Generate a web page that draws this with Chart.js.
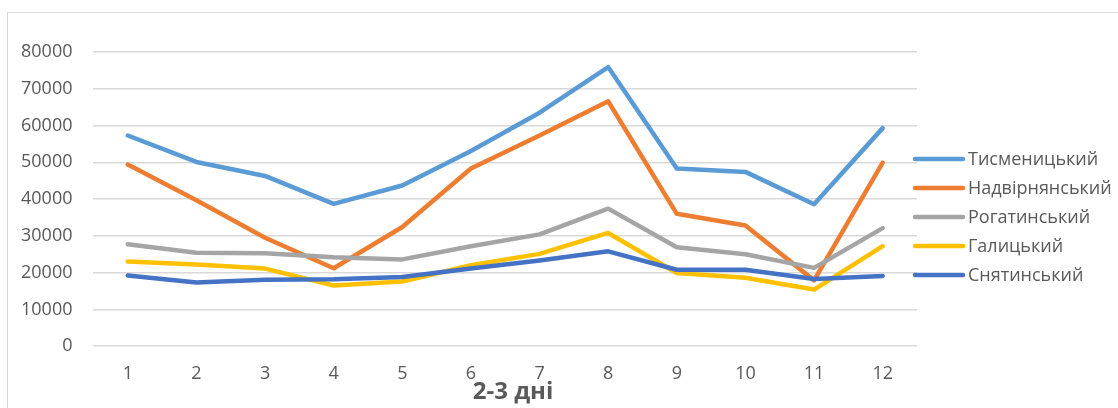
<!DOCTYPE html>
<html>
<head>
<meta charset="utf-8">
<script src="https://cdn.jsdelivr.net/npm/chart.js@4.4.1/dist/chart.umd.min.js"></script>
<style>
  html, body { margin: 0; padding: 0; background: #fff; overflow: hidden; width: 1118px; height: 408px; }
  #frame { position: absolute; left: 7px; top: 12px; width: 1300px; height: 600px; border: 1.5px solid #d9d9d9; box-sizing: border-box; }
  #c { position: absolute; left: 0; top: 0; }
</style>
</head>
<body>
<div id="frame"></div>
<canvas id="c" width="1118" height="408"></canvas>
<script>
const categories = ['1','2','3','4','5','6','7','8','9','10','11','12'];
const seriesNames = ['Тисменицький','Надвірнянський','Рогатинський','Галицький','Снятинський'];
const tysmenytskyi   = [57300, 50100, 46300, 38700, 43700, 53100, 63500, 75900, 48300, 47400, 38600, 59300];
const nadvirnianskyi = [49400, 39700, 29500, 21200, 32400, 48300, 57300, 66600, 36000, 32800, 17900, 49900];
const rohatynskyi    = [27700, 25400, 25300, 24200, 23600, 27200, 30400, 37400, 26900, 25000, 21300, 32100];
const halytskyi      = [23000, 22200, 21100, 16500, 17600, 22000, 25100, 30800, 19900, 18600, 15400, 27200];
const sniatynskyi    = [19200, 17300, 18100, 18200, 18800, 21100, 23300, 25800, 20800, 20800, 18300, 19100];
const seriesValues = [tysmenytskyi, nadvirnianskyi, rohatynskyi, halytskyi, sniatynskyi];
const colors = ['#5B9BD5','#ED7D31','#A5A5A5','#FFC000','#4472C4'];
const yTicks = [0, 10000, 20000, 30000, 40000, 50000, 60000, 70000, 80000];
const xTitle = '2-3 дні';

const FONT = '"Open Sans", sans-serif';
const TXT = '#595959';

const extrasPlugin = {
  id: 'extras',
  afterDraw(chart) {
    const ctx = chart.ctx;
    const x0 = 915, x1 = 963, tx = 968, y0 = 159, dy = 29;
    ctx.save();
    ctx.font = '18px ' + FONT;
    ctx.textBaseline = 'middle';
    ctx.textAlign = 'left';
    chart.data.datasets.forEach((ds, i) => {
      const y = y0 + i * dy;
      ctx.strokeStyle = ds.borderColor;
      ctx.lineWidth = 4.5;
      ctx.lineCap = 'round';
      ctx.beginPath();
      ctx.moveTo(x0, y);
      ctx.lineTo(x1, y);
      ctx.stroke();
      ctx.fillStyle = TXT;
      ctx.fillText(ds.label, tx, y + 1);
    });
    // axis title
    ctx.font = 'bold 24px ' + FONT;
    ctx.textAlign = 'center';
    ctx.fillStyle = TXT;
    ctx.fillText(xTitle, 513, 392);
    ctx.restore();
  }
};

new Chart(document.getElementById('c'), {
  type: 'line',
  data: {
    labels: categories,
    datasets: seriesNames.map((name, i) => ({
      label: name,
      data: seriesValues[i],
      borderColor: colors[i],
      backgroundColor: colors[i],
      borderWidth: 4.5,
      borderCapStyle: 'round',
      borderJoinStyle: 'round',
      pointRadius: 0,
      pointHoverRadius: 0,
      tension: 0,
      fill: false,
      order: -i
    }))
  },
  options: {
    responsive: false,
    devicePixelRatio: 1,
    animation: false,
    layout: { padding: { top: 52, left: 0, right: 201, bottom: 15 } },
    plugins: { legend: { display: false }, tooltip: { enabled: false } },
    scales: {
      x: {
        offset: true,
        grid: { display: false },
        border: { display: false },
        ticks: { color: TXT, font: { family: FONT, size: 18 }, padding: 8.6, maxRotation: 0 }
      },
      y: {
        min: 0, max: 80000,
        afterBuildTicks(scale) { scale.ticks = yTicks.map(v => ({ value: v })); },
        grid: { color: '#d9d9d9', lineWidth: 1.5, drawTicks: false },
        border: { display: false },
        ticks: { color: TXT, font: { family: FONT, size: 18 }, padding: 21, callback: (v) => String(v) }
      }
    }
  },
  plugins: [extrasPlugin]
});
</script>
</body>
</html>
